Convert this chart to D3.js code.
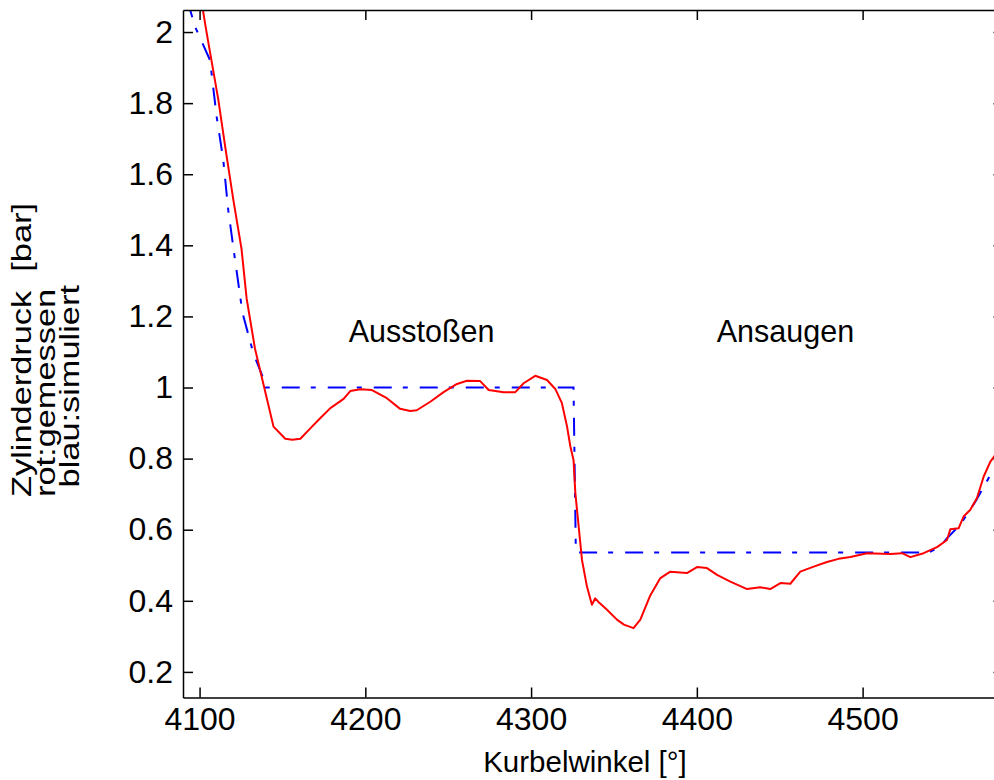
<!DOCTYPE html>
<html>
<head>
<meta charset="utf-8">
<script src="https://cdn.jsdelivr.net/npm/d3@7"></script>
<style>
  html, body { margin: 0; padding: 0; background: #fff; }
  svg { display: block; }
  text { font-family: "Liberation Sans", Arial, sans-serif; fill: #000; }
</style>
</head>
<body>
<svg id="chart" width="994" height="780"></svg>
<script>
// ---- data ----
const measuredX = [4101, 4104.2, 4111.3, 4115.7, 4120.3, 4125.3, 4128.4, 4133.4, 4139.5, 4144.6,
  4151.7, 4156, 4160.8, 4166.8, 4172, 4178.9, 4186.9, 4190.9, 4197, 4204,
  4213, 4221, 4227, 4231, 4239.2, 4247.2, 4255.3, 4261.3, 4269.3, 4274.4,
  4283.4, 4290.5, 4295.5, 4302.5, 4309.6, 4314.6, 4318.6, 4321.7, 4323.7, 4325.6,
  4326.7, 4328.7, 4330.7, 4333.7, 4336.7, 4338.7, 4341, 4345.8, 4351.8, 4356,
  4361.8, 4365.9, 4371.9, 4378, 4384, 4394, 4400.1, 4406.1, 4412.2, 4420.2,
  4430.3, 4438.3, 4444.3, 4450.4, 4456.4, 4462.4, 4470.5, 4478.5, 4485.5, 4492.6,
  4502.7, 4516.7, 4523.8, 4528.8, 4536.8, 4544.9, 4550.9, 4552.9, 4557.9, 4560.9,
  4565, 4569, 4573, 4577, 4580];
const measuredP = [2.09, 2.00, 1.81, 1.67, 1.53, 1.39, 1.25, 1.11, 0.99, 0.89,
  0.856, 0.853, 0.856, 0.885, 0.91, 0.942, 0.968, 0.99, 0.995, 0.993,
  0.97, 0.94, 0.934, 0.936, 0.96, 0.987, 1.010, 1.019, 1.018, 0.993,
  0.987, 0.987, 1.012, 1.033, 1.021, 0.996, 0.956, 0.890, 0.834, 0.796,
  0.703, 0.609, 0.515, 0.440, 0.389, 0.407, 0.395, 0.375, 0.347, 0.333,
  0.323, 0.347, 0.415, 0.464, 0.482, 0.478, 0.495, 0.492, 0.473, 0.454,
  0.433, 0.438, 0.433, 0.450, 0.448, 0.482, 0.496, 0.509, 0.518, 0.523,
  0.534, 0.532, 0.534, 0.523, 0.534, 0.551, 0.571, 0.601, 0.604, 0.637,
  0.656, 0.689, 0.749, 0.791, 0.81];

const simulatedX = [4092.5, 4097.4, 4106.3, 4110.3, 4114.3, 4117.3, 4121.4, 4125.9, 4132.4, 4138.4,
  4139.6, 4325.6, 4327, 4540, 4546.9, 4550.9, 4558.9, 4568, 4576, 4580];
const simulatedP = [2.09, 2.014, 1.921, 1.762, 1.640, 1.499, 1.359, 1.210, 1.097, 1.026,
  1.0, 1.0, 0.536, 0.536, 0.553, 0.576, 0.614, 0.679, 0.745, 0.77];

const xTicks = [4100, 4200, 4300, 4400, 4500];
const xTickLabels = ["4100", "4200", "4300", "4400", "4500"];
const yTicks = [0.2, 0.4, 0.6, 0.8, 1.0, 1.2, 1.4, 1.6, 1.8, 2.0];
const yTickLabels = ["0.2", "0.4", "0.6", "0.8", "1", "1.2", "1.4", "1.6", "1.8", "2"];

const annotations = ["Ausstoßen", "Ansaugen"];
const annotationX = [4190, 4412];
const annotationY = [1.16, 1.16];

const xLabel = "Kurbelwinkel [°]";
const yLabelLines = ["Zylinderdruck  [bar]", "rot:gemessen", " blau:simuliert"];

// ---- layout ----
const svg = d3.select("#chart");
const L = 183, R = 1003.5, T = 10, B = 697.5;
const x = d3.scaleLinear().domain([4090, 4585]).range([L, R]);
const y = d3.scaleLinear().domain([0.128, 2.062]).range([B, T]);

svg.append("rect").attr("width", 994).attr("height", 780).attr("fill", "#fff");

svg.append("defs").append("clipPath").attr("id", "clip")
  .append("rect").attr("x", L).attr("y", T).attr("width", R - L).attr("height", B - T);

const plot = svg.append("g").attr("clip-path", "url(#clip)");

const line = d3.line().x(d => x(d[0])).y(d => y(d[1]));

const simData = simulatedX.map((v, i) => [v, simulatedP[i]]);
const measData = measuredX.map((v, i) => [v, measuredP[i]]);

plot.append("path").datum(simData).attr("d", line)
  .attr("fill", "none").attr("stroke", "#0000ff").attr("stroke-width", 2)
  .attr("stroke-dasharray", "18,11,5,12");

plot.append("path").datum(measData).attr("d", line)
  .attr("fill", "none").attr("stroke", "#ff0000").attr("stroke-width", 2)
  .attr("stroke-linejoin", "round");

// ---- axes ----
function styleAxis(g) {
  g.select(".domain").attr("stroke", "#000").attr("stroke-width", 1.5);
  g.selectAll(".tick line").attr("stroke", "#000").attr("stroke-width", 1.5);
}

const gx = svg.append("g").attr("transform", `translate(0,${B})`)
  .call(d3.axisBottom(x).tickValues(xTicks).tickFormat((d, i) => xTickLabels[i])
    .tickSizeInner(-10).tickSizeOuter(0).tickPadding(10));
styleAxis(gx);
gx.selectAll(".tick text").attr("font-size", 32).attr("font-family", "Liberation Sans, Arial, sans-serif")
  .attr("fill", "#000");

const gxt = svg.append("g").attr("transform", `translate(0,${T})`)
  .call(d3.axisTop(x).tickValues(xTicks).tickFormat("").tickSizeInner(-10).tickSizeOuter(0));
styleAxis(gxt);

const gy = svg.append("g").attr("transform", `translate(${L},0)`)
  .call(d3.axisLeft(y).tickValues(yTicks).tickFormat((d, i) => yTickLabels[i])
    .tickSizeInner(-10).tickSizeOuter(0).tickPadding(10));
styleAxis(gy);
gy.selectAll(".tick text").attr("font-size", 32).attr("font-family", "Liberation Sans, Arial, sans-serif")
  .attr("fill", "#000");

const gyr = svg.append("g").attr("transform", `translate(${R},0)`)
  .call(d3.axisRight(y).tickValues(yTicks).tickFormat("").tickSizeInner(-10).tickSizeOuter(0));
styleAxis(gyr);

// ---- texts ----
annotations.forEach((t, i) => {
  svg.append("text")
    .attr("x", x(annotationX[i])).attr("y", y(annotationY[i]))
    .attr("dy", "0.36em")
    .attr("font-size", 30.5)
    .text(t);
});

svg.append("text")
  .attr("x", 585).attr("y", 772)
  .attr("text-anchor", "middle")
  .attr("font-size", 29.5)
  .text(xLabel);

const yLabX = [31, 55, 79];
const yLabY = [497, 497, 497];
yLabelLines.forEach((t, i) => {
  svg.append("text")
    .attr("transform", `translate(${yLabX[i]},${yLabY[i]}) rotate(-90) scale(1.25,1)`)
    .attr("font-size", 27.5)
    .style("white-space", "pre")
    .text(t);
});
</script>
</body>
</html>
